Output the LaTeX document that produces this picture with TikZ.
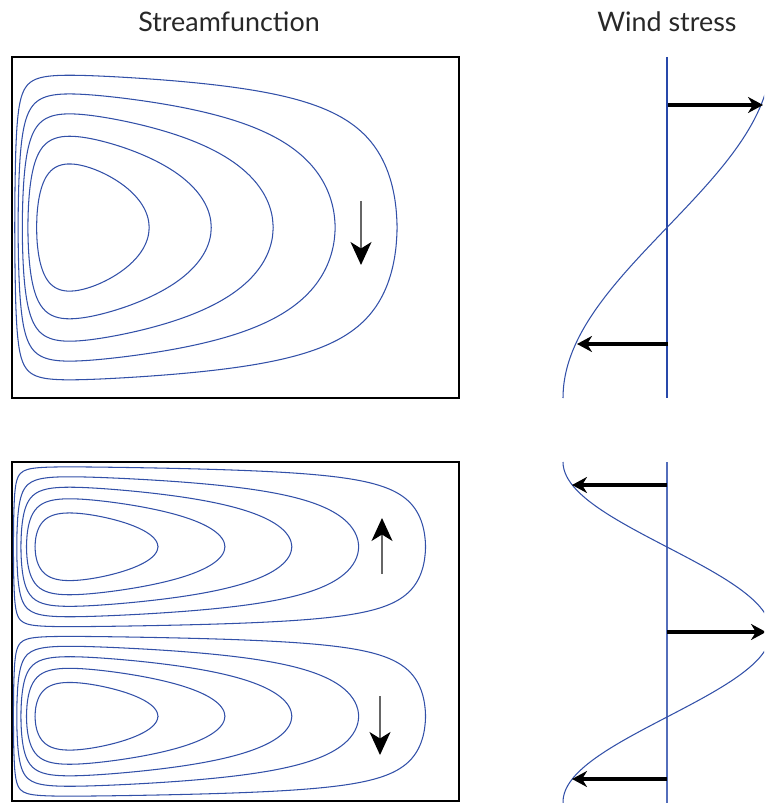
\documentclass[tikz,border=0pt]{standalone}
\usepackage{fontspec}
\setmainfont{Lato}
\usetikzlibrary{arrows.meta,positioning}
\definecolor{streamblue}{RGB}{50,80,168}
\definecolor{axisblue}{RGB}{40,72,170}
\definecolor{titlegray}{RGB}{40,40,40}
% zonal profile of the streamfunction (western boundary layer)
\tikzset{declare function={Fx(\x)=1.20302*(1-\x-exp(-min(25*\x,10)));}}
\newcommand{\gyrecontours}[1]{%
  \foreach \c/\xa/\xb in {#1}
    \draw[contour] plot[smooth cycle,variable=\t,domain=0:357,samples=120]
      ({\xa+(\xb-\xa)*(1-cos(\t))/2},
       {0.5-(sin(\t)<0 ? -1 : 1)*acos(min(1,\c/Fx(\xa+(\xb-\xa)*(1-cos(\t))/2)))/180});
}
\begin{document}
\begin{tikzpicture}[
    x=0.02cm,y=-0.02cm,
    frame/.style={draw=black,line width=1.1pt},
    contour/.style={draw=streamblue,line width=0.6pt},
    flow/.style={draw=black!60,line width=0.9pt,-{Stealth[length=0.46cm,width=0.42cm,inset=0.13cm,color=black]}},
    windarrow/.style={draw=black,line width=1.8pt,-{Stealth[length=0.3cm,width=0.32cm]}},
    title/.style={text=titlegray,font=\fontsize{15.3}{18}\selectfont,anchor=base}
  ]
  \useasboundingbox (0,0) rectangle (764,803);
  \clip (0,0) rectangle (764,803);

  \node[title] (tstream) at (229,32) {Streamfunction};
  \node[title] (twind) at (667,32) {Wind stress};

  % single gyre
  \draw[frame] (12,57) rectangle (459,398);
  \begin{scope}[shift={(12,398)},x={(8.94cm,0)},y={(0,6.82cm)}]
    \gyrecontours{0.16667/0.0062/0.8616,0.33333/0.0137/0.7230,0.5/0.0230/0.5845,
      0.66667/0.0356/0.4460,0.83333/0.0550/0.3070}
  \end{scope}
  \coordinate (a1s) at (361,201);
  \coordinate (a1e) at (361,265);
  \draw[flow] (a1s) -- (a1e);

  % double gyre
  \draw[frame] (12,462) rectangle (459,801);
  \foreach \ybase in {631.5,801}{
    \begin{scope}[shift={(12,\ybase)},x={(8.94cm,0)},y={(0,3.39cm)}]
      \gyrecontours{0.09/0.0032/0.9253,0.27/0.0107/0.7757,0.45/0.0200/0.6261,
        0.63/0.0324/0.4765,0.81/0.0515/0.3266}
    \end{scope}
  }
  \coordinate (a2s) at (382,574);
  \coordinate (a2e) at (382,518);
  \coordinate (a3s) at (380,696);
  \coordinate (a3e) at (380,755);
  \draw[flow] (a2s) -- (a2e);
  \draw[flow] (a3s) -- (a3e);

  % wind stress, one gyre
  \draw[axisblue,line width=1pt] (667,57) -- (667,398);
  \draw[streamblue,line width=0.6pt] plot[smooth,variable=\y,domain=57:398,samples=80]
    ({667-104*cos((398-\y)*0.52786)},\y);
  \coordinate (w1s) at (668,105);
  \coordinate (w1e) at (763,105);
  \coordinate (w2s) at (668,344);
  \coordinate (w2e) at (577,344);
  \draw[windarrow] (w1s) -- (w1e);
  \draw[windarrow] (w2s) -- (w2e);

  % wind stress, two gyres
  \draw[axisblue!80,line width=0.6pt] (667,462) -- (667,803);
  \draw[streamblue,line width=0.6pt] plot[smooth,variable=\y,domain=462:803,samples=100]
    ({667-104*cos((\y-462)*1.05882)},\y);
  \coordinate (w3s) at (667,485);
  \coordinate (w3e) at (572,485);
  \coordinate (w4s) at (667,632);
  \coordinate (w4e) at (766,632);
  \coordinate (w5s) at (667,779);
  \coordinate (w5e) at (572,779);
  \foreach \s/\e in {w3s/w3e,w4s/w4e,w5s/w5e}
    \draw[windarrow] (\s) -- (\e);
\end{tikzpicture}
\end{document}
